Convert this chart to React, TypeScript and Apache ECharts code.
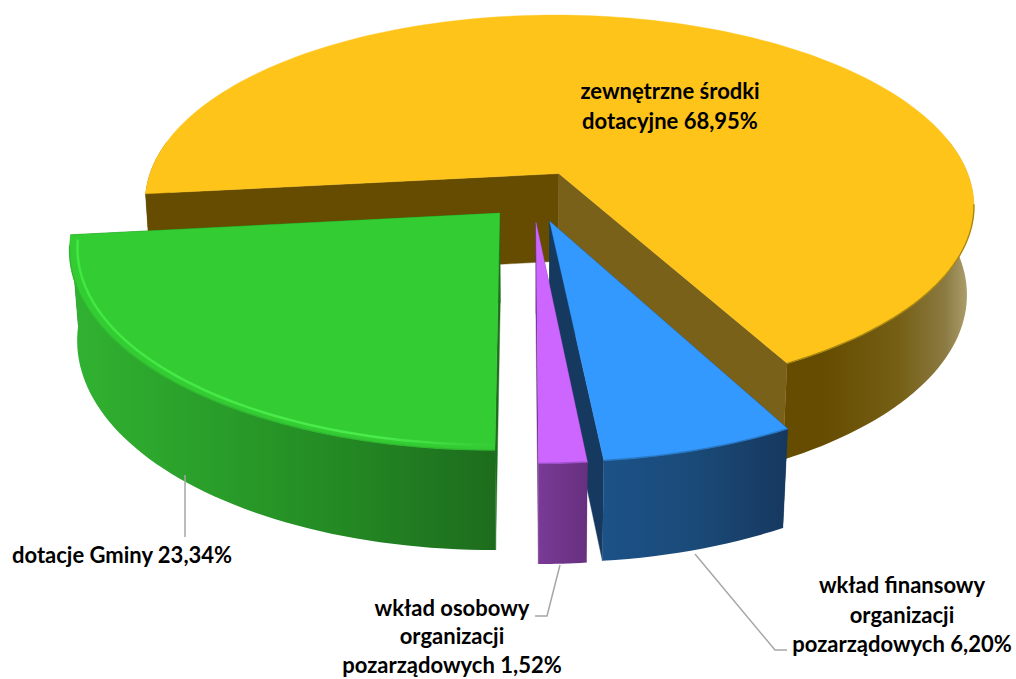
import React, { useEffect, useRef } from "react";
import * as echarts from "echarts";

const categories = [
  "zewnętrzne środki\ndotacyjne 68,95%",
  "wkład finansowy\norganizacji\npozarządowych 6,20%",
  "wkład osobowy\norganizacji\npozarządowych 1,52%",
  "dotacje Gminy 23,34%",
];
const values = [68.95, 6.2, 1.52, 23.34];

const topColors = ["#FFC41A", "#3399FF", "#CC66FF", "#33CC33"];
const rimColors = ["#A98810", "#2A78C4", "#9E50C8", "#2FB82F"];
const leftWallColors = ["#654C00", "#16395F", "#66307F", "#1E6E1E"];
const rightWallColors = ["#7A611A", "#16395F", "#66307F", "#1E6E1E"];
const explodes = [0.135, 0.135, 0.135, 0.118];
const outerStops: [number, string][][] = [
  [[0, "#654C00"], [0.82, "#654C00"], [0.91, "#766016"], [0.965, "#8B7A42"], [1, "#B5A878"]],
  [[0, "#1C5288"], [0.5, "#1A4A78"], [1, "#16385F"]],
  [[0, "#7A3A96"], [1, "#66307F"]],
  [[0, "#31B231"], [0.3, "#2AA02A"], [0.6, "#248C24"], [1, "#1D6C1D"]],
];

const START_DEG = -96.2;
const OX = 533, OY = 196, A = 417, B = 191.5, K = 0.165, CY = 0.025, CX = 0.016, DEPTH = 91;

function project(X: number, Y: number, z: number): [number, number] {
  const base = 1 - K * Y;
  return [OX + (A * X) / (base + CX * z), OY + (B * Y + DEPTH * z) / (base + CY * z)];
}

function splitRuns(angles: number[], minV: number): number[][] {
  const runs: number[][] = [];
  let run: number[] = [];
  angles.forEach((a) => {
    if (-Math.cos((a * Math.PI) / 180) > minV) run.push(a);
    else {
      if (run.length > 1) runs.push(run);
      run = [];
    }
  });
  if (run.length > 1) runs.push(run);
  return runs;
}

function renderItem(params: any, api: any) {
  const i = params.dataIndex;
  const total = values.reduce((s, v) => s + v, 0);
  const before = values.slice(0, i).reduce((s, v) => s + v, 0);
  const t1 = START_DEG + (before / total) * 360;
  const t2 = t1 + (api.value(0) / total) * 360;
  const mid = (((t1 + t2) / 2) * Math.PI) / 180;
  const ex = Math.sin(mid) * explodes[i];
  const ey = -Math.cos(mid) * explodes[i];
  const pt = (deg: number, r: number, z: number) => {
    const a = (deg * Math.PI) / 180;
    return project(ex + Math.sin(a) * r, ey - Math.cos(a) * r, z);
  };
  const steps = Math.max(8, Math.round((t2 - t1) / 1.5));
  const angles: number[] = [];
  for (let s = 0; s <= steps; s++) angles.push(t1 + ((t2 - t1) * s) / steps);

  const children: any[] = [];
  const apexTop = project(ex, ey, 0);
  const apexBot = project(ex, ey, 1);
  const poly = (points: number[][], fill: any) => ({
    type: "polygon",
    shape: { points },
    style: { fill, stroke: fill, lineWidth: 0.4 },
  });

  // inner walls
  children.push(poly([apexTop, pt(t1, 1, 0), pt(t1, 1, 1), apexBot], leftWallColors[i]));
  children.push(poly([apexTop, pt(t2, 1, 0), pt(t2, 1, 1), apexBot], rightWallColors[i]));

  // outer wall, front-facing runs only, one gradient over the whole slice
  const allX = angles.flatMap((a) => [pt(a, 1, 0)[0], pt(a, 1, 1)[0]]);
  const x0 = Math.min(...allX), x1 = Math.max(...allX);
  splitRuns(angles, -0.2).forEach((run) => {
    const top = run.map((a) => pt(a, 1, 0));
    const bot = run.map((a) => pt(a, 1, 1)).reverse();
    children.push({
      type: "polygon",
      shape: { points: top.concat(bot) },
      style: {
        fill: new echarts.graphic.LinearGradient(
          x0, 0, x1, 0,
          outerStops[i].map(([offset, color]) => ({ offset, color })),
          true,
        ),
      },
    });
  });

  // top face
  children.push(poly([apexTop, ...angles.map((a) => pt(a, 1, 0))], topColors[i]));

  // rim
  splitRuns(angles, 0.15).forEach((run) => {
    children.push({
      type: "polyline",
      shape: { points: run.map((a) => pt(a, 1, 0)) },
      style: { stroke: rimColors[i], lineWidth: 1.4, fill: "none" },
    });
  });

  // green bevel highlight
  if (i === 3) {
    const hi = angles.filter((a) => a < t2 - 1);
    children.push({
      type: "polyline",
      shape: { points: hi.map((a) => pt(a, 0.982, 0)) },
      style: {
        fill: "none",
        lineWidth: 2.5,
        stroke: new echarts.graphic.LinearGradient(
          80, 0, 500, 0,
          [
            { offset: 0, color: "#42E842" },
            { offset: 0.7, color: "#4CEB4C" },
            { offset: 1, color: "#33CC33" },
          ],
          true,
        ),
      },
    });
  }
  return { type: "group", children };
}

const labelStyle = (textAlign: string, lineHeight: number) => ({
  fontFamily: "Lato",
  fontWeight: 700,
  fontSize: 22,
  lineHeight,
  fill: "#000000",
  textAlign,
  textVerticalAlign: "top",
});

const labelPlaces = [
  { x: 670, y: 76, align: "center", lineHeight: 29.5 },
  { x: 902, y: 570, align: "center", lineHeight: 29.5 },
  { x: 452, y: 593, align: "center", lineHeight: 28.5 },
  { x: 12, y: 540, align: "left", lineHeight: 29.5 },
];
const leaderLines = [
  [[695, 554], [775, 650], [787, 650]],
  [[560, 565], [547, 616], [535, 616]],
  [[185, 475], [185, 537]],
];

export default function App() {
  const ref = useRef<HTMLDivElement>(null);
  useEffect(() => {
    const chart = echarts.init(ref.current!, undefined, { renderer: "svg" });
    chart.setOption({
      animation: false,
      backgroundColor: "#ffffff",
      graphic: [
        ...leaderLines.map((points) => ({
          type: "polyline",
          z: 5,
          shape: { points },
          style: { stroke: "#A6A6A6", lineWidth: 1.5, fill: "none" },
        })),
        ...categories.map((text, i) => ({
          type: "text",
          z: 10,
          x: labelPlaces[i].x,
          y: labelPlaces[i].y,
          style: { text, ...labelStyle(labelPlaces[i].align, labelPlaces[i].lineHeight) },
        })),
      ],
      series: [
        {
          type: "custom",
          coordinateSystem: "none",
          renderItem,
          silent: true,
          data: values.map((v) => [v]),
        },
      ],
    });
    return () => chart.dispose();
  }, []);
  return <div ref={ref} style={{ position: "fixed", left: 0, top: 0, width: 1016, height: 679 }} />;
}
